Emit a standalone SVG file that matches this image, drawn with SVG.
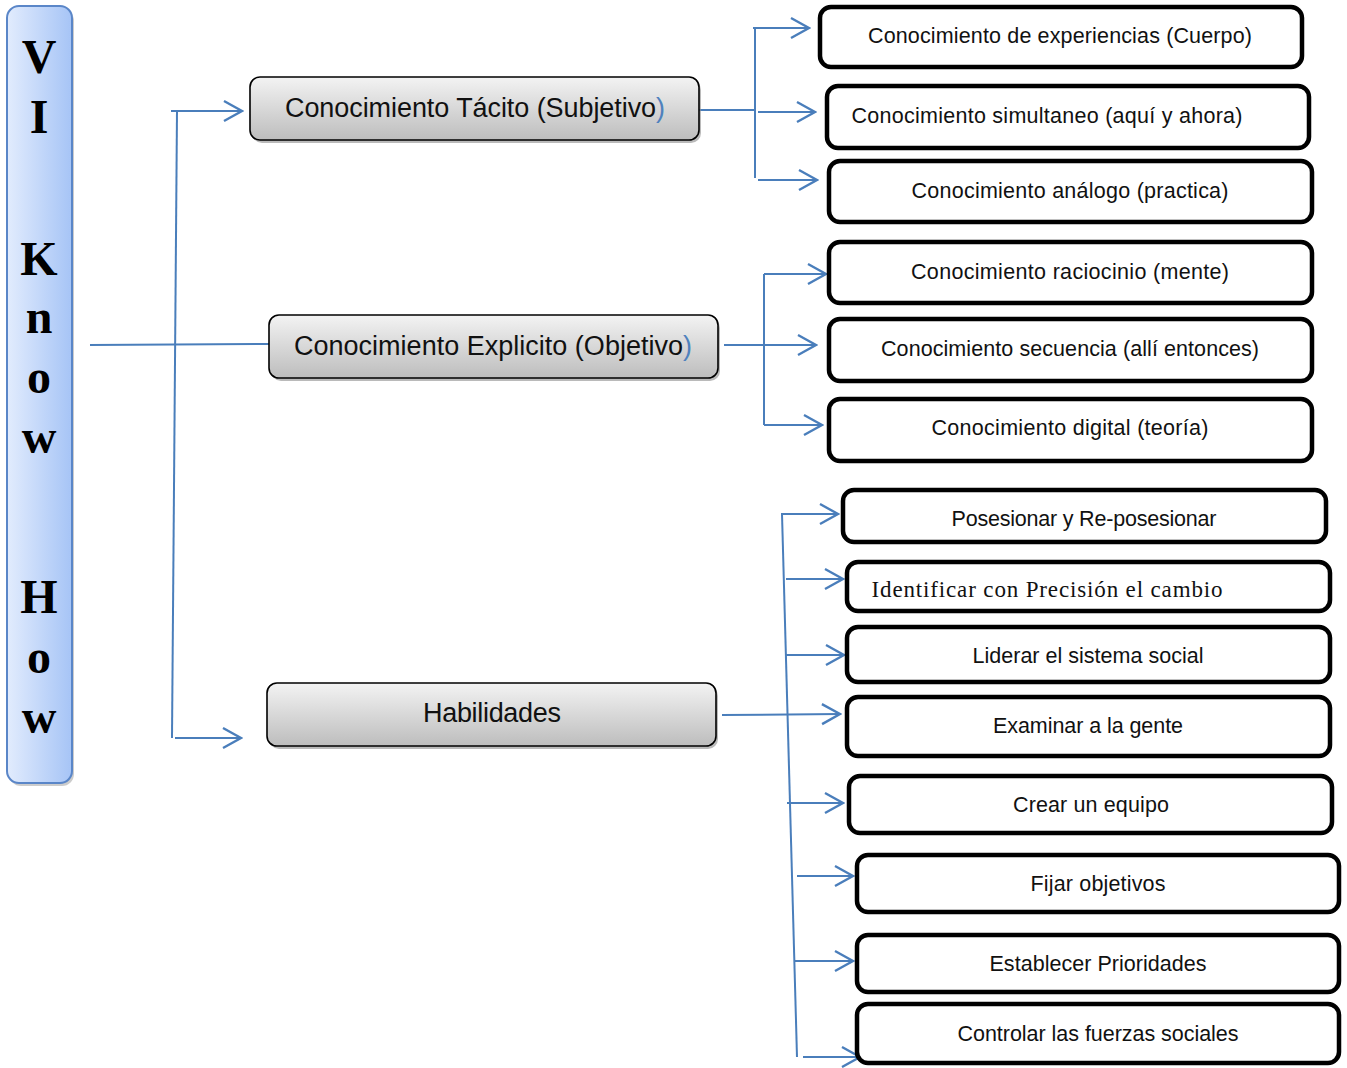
<svg xmlns="http://www.w3.org/2000/svg" width="1347" height="1068" viewBox="0 0 1347 1068">
<defs>
<linearGradient id="barGrad" x1="0" y1="0" x2="1" y2="0">
<stop offset="0" stop-color="#e2ecfd"/>
<stop offset="1" stop-color="#a6c4f6"/>
</linearGradient>
<linearGradient id="grayGrad" x1="0" y1="0" x2="0" y2="1">
<stop offset="0" stop-color="#f3f3f3"/>
<stop offset="1" stop-color="#bdbdbd"/>
</linearGradient>
<marker id="arr" markerUnits="userSpaceOnUse" markerWidth="22" markerHeight="24" viewBox="0 0 22 24" refX="20" refY="12" orient="auto">
<path d="M2,2 L20,12 L2,22" fill="none" stroke="#4a7ebb" stroke-width="2.4"/>
</marker>
</defs>
<style>
.conn{fill:none;stroke:#4a7ebb;stroke-width:2}
.gbox{fill:url(#grayGrad);stroke:#000;stroke-width:1.6}
.gshadow{fill:#8c8c8c;opacity:0.6}
.wbox{fill:#fff;stroke:#000;stroke-width:4.5}
.gtxt{font-family:"Liberation Sans",Arial,sans-serif;font-size:27px;fill:#111;text-anchor:middle}
.wtxt{font-family:"Liberation Sans",Arial,sans-serif;font-size:21.5px;fill:#111;text-anchor:middle}
.stxt{font-family:"Liberation Serif","Times New Roman",serif;font-size:23px;fill:#111;text-anchor:middle}
.blt{font-family:"Liberation Serif","Times New Roman",serif;font-weight:bold;font-size:48px;fill:#000;text-anchor:middle}
.blue{fill:#4f81bd}
</style>

<g id="connectors">
<line class="conn" x1="90" y1="345" x2="269" y2="344"/>
<line class="conn" x1="177" y1="111" x2="172" y2="738"/>
<line class="conn" x1="171" y1="111" x2="242" y2="111" marker-end="url(#arr)"/>
<line class="conn" x1="175" y1="738" x2="241" y2="738" marker-end="url(#arr)"/>

<line class="conn" x1="693" y1="110" x2="755" y2="110"/>
<line class="conn" x1="755" y1="28" x2="755" y2="178"/>
<line class="conn" x1="753" y1="28" x2="809" y2="28" marker-end="url(#arr)"/>
<line class="conn" x1="758" y1="112" x2="815" y2="112" marker-end="url(#arr)"/>
<line class="conn" x1="758" y1="180" x2="817" y2="180" marker-end="url(#arr)"/>

<line class="conn" x1="724" y1="345" x2="816" y2="345" marker-end="url(#arr)"/>
<line class="conn" x1="764" y1="274" x2="764" y2="425"/>
<line class="conn" x1="764" y1="274" x2="826" y2="274" marker-end="url(#arr)"/>
<line class="conn" x1="764" y1="425" x2="822" y2="425" marker-end="url(#arr)"/>

<line class="conn" x1="782" y1="514" x2="797" y2="1057"/>
<line class="conn" x1="781" y1="514" x2="838" y2="514" marker-end="url(#arr)"/>
<line class="conn" x1="786" y1="579" x2="843" y2="579" marker-end="url(#arr)"/>
<line class="conn" x1="786" y1="655" x2="844" y2="655" marker-end="url(#arr)"/>
<line class="conn" x1="722" y1="715" x2="840" y2="714" marker-end="url(#arr)"/>
<line class="conn" x1="787" y1="803" x2="843" y2="803" marker-end="url(#arr)"/>
<line class="conn" x1="797" y1="876" x2="853" y2="876" marker-end="url(#arr)"/>
<line class="conn" x1="795" y1="961" x2="853" y2="961" marker-end="url(#arr)"/>
<line class="conn" x1="803" y1="1057" x2="860" y2="1057" marker-end="url(#arr)"/>
</g>

<g id="vi-know-how">
<rect x="9" y="9" width="65" height="777" rx="12" fill="#9a9a9a" opacity="0.5"/>
<rect x="7" y="6" width="65" height="777" rx="12" fill="url(#barGrad)" stroke="#5a86c8" stroke-width="2"/>
<text class="blt" x="39" y="73">V</text>
<text class="blt" x="39" y="133">I</text>
<text class="blt" x="39" y="275">K</text>
<text class="blt" x="39" y="333">n</text>
<text class="blt" x="39" y="393">o</text>
<text class="blt" x="39" y="453">w</text>
<text class="blt" x="39" y="613">H</text>
<text class="blt" x="39" y="673">o</text>
<text class="blt" x="39" y="733">w</text>
</g>

<g id="tacito">
<rect class="gshadow" x="252" y="80" width="449" height="63" rx="10"/>
<rect class="gbox" x="250" y="77" width="449" height="63" rx="10"/>
<text class="gtxt" x="475" y="117" textLength="380">Conocimiento Tácito (Subjetivo<tspan class="blue">)</tspan></text>
</g>
<g id="explicito">
<rect class="gshadow" x="271" y="318" width="449" height="63" rx="10"/>
<rect class="gbox" x="269" y="315" width="449" height="63" rx="10"/>
<text class="gtxt" x="493" y="355" textLength="398">Conocimiento Explicito (Objetivo<tspan class="blue">)</tspan></text>
</g>
<g id="habilidades">
<rect class="gshadow" x="269" y="686" width="449" height="63" rx="10"/>
<rect class="gbox" x="267" y="683" width="449" height="63" rx="10"/>
<text class="gtxt" x="492" y="722" textLength="138">Habilidades</text>
</g>

<g id="n1"><rect class="wbox" x="820" y="7" width="482" height="60" rx="11"/><text class="wtxt" x="1060" y="43" textLength="384">Conocimiento de experiencias (Cuerpo)</text></g>
<g id="n2"><rect class="wbox" x="827" y="86" width="482" height="62" rx="11"/><text class="wtxt" x="1047" y="123" textLength="391">Conocimiento simultaneo (aquí y ahora)</text></g>
<g id="n3"><rect class="wbox" x="829" y="161" width="483" height="61" rx="11"/><text class="wtxt" x="1070" y="198" textLength="317">Conocimiento análogo (practica)</text></g>
<g id="n4"><rect class="wbox" x="829" y="242" width="483" height="61" rx="11"/><text class="wtxt" x="1070" y="279" textLength="318">Conocimiento raciocinio (mente)</text></g>
<g id="n5"><rect class="wbox" x="829" y="319" width="483" height="62" rx="11"/><text class="wtxt" x="1070" y="356" textLength="378">Conocimiento secuencia (allí entonces)</text></g>
<g id="n6"><rect class="wbox" x="829" y="399" width="483" height="62" rx="11"/><text class="wtxt" x="1070" y="435" textLength="277">Conocimiento digital (teoría)</text></g>
<g id="n7"><rect class="wbox" x="843" y="490" width="483" height="52" rx="11"/><text class="wtxt" x="1084" y="526" textLength="265">Posesionar y Re-posesionar</text></g>
<g id="n8"><rect class="wbox" x="847" y="562" width="483" height="49" rx="11"/><text class="stxt" x="1047" y="597" textLength="351">Identificar con Precisión el cambio</text></g>
<g id="n9"><rect class="wbox" x="847" y="627" width="483" height="55" rx="11"/><text class="wtxt" x="1088" y="663" textLength="231">Liderar el sistema social</text></g>
<g id="n10"><rect class="wbox" x="847" y="697" width="483" height="59" rx="11"/><text class="wtxt" x="1088" y="733" textLength="190">Examinar a la gente</text></g>
<g id="n11"><rect class="wbox" x="849" y="776" width="483" height="57" rx="11"/><text class="wtxt" x="1091" y="812" textLength="156">Crear un equipo</text></g>
<g id="n12"><rect class="wbox" x="857" y="855" width="482" height="57" rx="11"/><text class="wtxt" x="1098" y="891" textLength="135">Fijar objetivos</text></g>
<g id="n13"><rect class="wbox" x="857" y="935" width="482" height="57" rx="11"/><text class="wtxt" x="1098" y="971" textLength="217">Establecer Prioridades</text></g>
<g id="n14"><rect class="wbox" x="857" y="1004" width="482" height="59" rx="11"/><text class="wtxt" x="1098" y="1041" textLength="281">Controlar las fuerzas sociales</text></g>
</svg>
